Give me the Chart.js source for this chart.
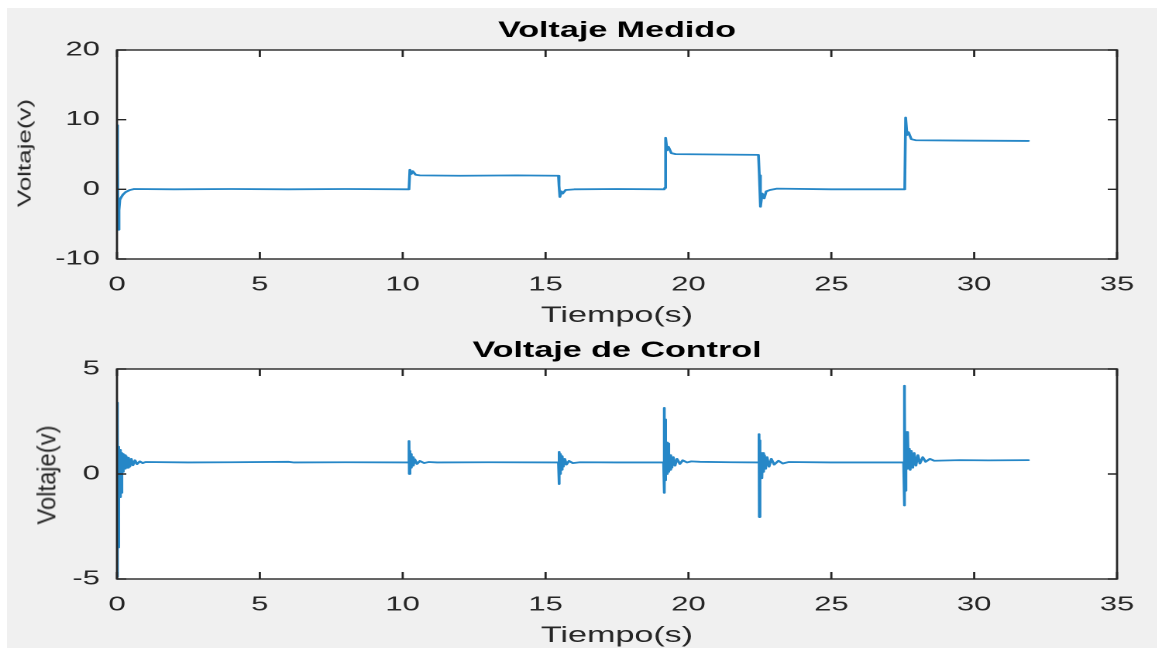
<!DOCTYPE html>
<html>
<head>
<meta charset="utf-8">
<title>Voltaje Medido / Voltaje de Control</title>
<script src="https://cdn.jsdelivr.net/npm/chart.js@4.4.0/dist/chart.umd.min.js"></script>
<style>
  html, body { margin: 0; padding: 0; background: #fff; }
  body { width: 1162px; height: 651px; position: relative; overflow: hidden; }
  #bg { position: absolute; left: 7px; top: 8px; width: 1150px; height: 640px; background: #f0f0f0; }
  /* the reference figure is stretched sideways, so the charts are drawn narrow and widened */
  #stretch { position: absolute; left: 0; top: 0; width: 750px; height: 651px;
             transform: scaleX(1.5493); transform-origin: 0 0; }
  #stretch canvas { position: absolute; left: 0; }
  .ylab { position: absolute; font: 22px 'Liberation Sans', Arial, sans-serif; color: #262626;
          line-height: 1; white-space: nowrap; transform-origin: 50% 50%; }
</style>
</head>
<body>
<div id="bg"></div>
<div id="stretch">
  <canvas id="medido" style="top:0"></canvas>
  <canvas id="control" style="top:335px"></canvas>
</div>
<div class="ylab" style="left:25px; top:153px; transform: translate(-50%,-50%) rotate(-90deg) scale(1.18,0.8);">Voltaje(v)</div>
<div class="ylab" style="left:47px; top:475px; transform: translate(-50%,-50%) rotate(-90deg) scale(1.08,1.2);">Voltaje(v)</div>

<script>
// ---- data ----
const xTicks = [0, 5, 10, 15, 20, 25, 30, 35];
const yTicksMed = [-10, 0, 10, 20];
const yTicksCtl = [-5, 0, 5];

// Voltaje Medido
const tMed = [0, 0.02, 0.04, 0.07, 0.1, 0.14, 0.2, 0.3, 0.45, 0.6, 2.0, 4.0, 6.0, 8.0, 10.2,
  10.22, 10.25, 10.3, 10.35, 10.45, 10.6, 12.0, 14.0, 15.45,
  15.47, 15.5, 15.55, 15.6, 15.7, 16.0, 17.5, 19.15,
  19.17, 19.2, 19.25, 19.3, 19.4, 19.55, 21.0, 22.45,
  22.48, 22.52, 22.58, 22.65, 22.72, 22.85, 23.1, 25.0, 27.55,
  27.57, 27.6, 27.65, 27.7, 27.8, 27.95, 29.5, 31.9];
const vMed = [9.2, 4.0, -5.8, -3.0, -1.5, -1.2, -0.8, -0.4, -0.1, 0.05, 0.0, 0.05, 0.0, 0.05, 0.0,
  0.1, 2.8, 2.2, 2.6, 2.1, 2.0, 1.95, 2.0, 1.95,
  0.5, -1.1, -0.3, -0.6, -0.1, 0.0, 0.05, 0.0,
  0.2, 7.4, 5.6, 6.1, 5.2, 5.05, 5.0, 4.95,
  2.0, -2.5, -0.6, -1.3, -0.3, -0.1, 0.1, 0.0, 0.0,
  0.2, 10.3, 7.8, 8.2, 7.2, 7.05, 7.0, 6.95];

// Voltaje de Control
const tCtl = [0, 0.01, 0.02, 0.03, 0.045, 0.06, 0.075, 0.09, 0.105, 0.12, 0.135, 0.15, 0.17, 0.19, 0.21,
  0.23, 0.26, 0.29, 0.32, 0.36, 0.4, 0.45, 0.5, 0.56, 0.63, 0.7, 0.8, 0.9, 1.0, 2.5, 4.0, 6.0, 6.2, 8.0, 10.2,
  10.22, 10.23, 10.245, 10.26, 10.28, 10.3, 10.33, 10.37, 10.42, 10.5, 10.6, 10.75, 10.9, 11.2, 13.0, 15.45,
  15.47, 15.48, 15.5, 15.52, 15.55, 15.58, 15.62, 15.67, 15.73, 15.82, 15.95, 16.2, 17.5, 19.13,
  19.15, 19.16, 19.17, 19.18, 19.2, 19.22, 19.24, 19.26, 19.28, 19.3, 19.32, 19.35, 19.38, 19.42, 19.47,
  19.53, 19.6, 19.7, 19.8, 19.95, 20.1, 20.4, 21.5, 22.45,
  22.47, 22.48, 22.49, 22.5, 22.52, 22.54, 22.56, 22.58, 22.6, 22.63, 22.66, 22.7, 22.75, 22.82, 22.9,
  23.0, 23.15, 23.3, 23.5, 25.0, 27.53,
  27.55, 27.56, 27.57, 27.58, 27.6, 27.62, 27.64, 27.66, 27.68, 27.7, 27.73, 27.76, 27.8, 27.85, 27.9,
  27.96, 28.03, 28.1, 28.2, 28.3, 28.45, 28.6, 29.5, 30.5, 31.9];
const vCtl = [3.4, -4.9, 2.5, -3.5, 1.3, -1.2, 1.2, -1.1, 1.15, -1.0, 1.1, -0.9, 1.0, 0.1, 0.95,
  0.2, 0.9, 0.25, 0.85, 0.3, 0.78, 0.35, 0.72, 0.42, 0.65, 0.47, 0.6, 0.52, 0.57, 0.55, 0.56, 0.58, 0.55, 0.56, 0.55,
  1.57, 0.0, 1.1, 0.15, 0.95, 0.3, 0.8, 0.4, 0.7, 0.48, 0.62, 0.52, 0.57, 0.55, 0.56, 0.55,
  -0.48, 1.05, 0.0, 0.95, 0.2, 0.85, 0.35, 0.72, 0.45, 0.62, 0.52, 0.56, 0.55, 0.55,
  3.15, -0.9, 2.6, -0.3, 1.5, -0.1, 1.5, 0.0, 1.45, 0.1, 1.0, 0.2, 0.9, 0.3, 0.8,
  0.4, 0.72, 0.48, 0.65, 0.55, 0.6, 0.58, 0.56, 0.55,
  1.9, -2.05, 1.6, -1.2, 1.05, -0.2, 1.0, -0.15, 1.0, 0.1, 0.9, 0.25, 0.8, 0.35, 0.72,
  0.45, 0.63, 0.5, 0.57, 0.55, 0.55,
  4.2, -1.5, 3.5, -0.8, 2.0, 0.2, 2.0, 0.25, 1.95, 0.3, 1.2, 0.2, 1.1, 0.3, 1.0,
  0.4, 0.9, 0.5, 0.8, 0.58, 0.72, 0.63, 0.66, 0.65, 0.66];

const FONT = "'Liberation Sans', Arial, Helvetica, sans-serif";
const AXIS_COLOR = '#262626';
const LINE_COLOR = 'rgba(0,114,189,0.85)';

// white plot box, full frame and inward tick marks like MATLAB's "box on"
const matlabBox = {
  id: 'matlabBox',
  beforeDraw(chart) {
    const { ctx, chartArea: a } = chart;
    ctx.save();
    ctx.fillStyle = '#fff';
    ctx.fillRect(a.left, a.top, a.right - a.left, a.bottom - a.top);
    ctx.restore();
  },
  afterDraw(chart) {
    const { ctx, chartArea: a, scales } = chart;
    ctx.save();
    ctx.strokeStyle = AXIS_COLOR;
    ctx.lineWidth = 1.4;
    ctx.strokeRect(a.left, a.top, a.right - a.left, a.bottom - a.top);
    ctx.beginPath();
    scales.x.ticks.forEach(t => {
      const px = scales.x.getPixelForValue(t.value);
      ctx.moveTo(px, a.bottom); ctx.lineTo(px, a.bottom - 7);
      ctx.moveTo(px, a.top); ctx.lineTo(px, a.top + 7);
    });
    scales.y.ticks.forEach(t => {
      const py = scales.y.getPixelForValue(t.value);
      ctx.moveTo(a.left, py); ctx.lineTo(a.left + 6, py);
      ctx.moveTo(a.right, py); ctx.lineTo(a.right - 6, py);
    });
    ctx.stroke();
    ctx.restore();
  }
};

function makeChart(id, opts) {
  const canvas = document.getElementById(id);
  canvas.width = 750;
  canvas.height = opts.height;
  canvas.style.width = '750px';
  canvas.style.height = opts.height + 'px';

  return new Chart(canvas, {
    type: 'scatter',
    data: {
      datasets: [{
        data: opts.t.map((t, i) => ({ x: t, y: opts.v[i] })),
        showLine: true,
        borderColor: LINE_COLOR,
        borderWidth: 1.8,
        borderJoinStyle: 'round',
        borderCapStyle: 'round',
        pointRadius: 0,
        tension: 0
      }]
    },
    options: {
      responsive: false,
      devicePixelRatio: 2,
      animation: false,
      layout: { padding: { left: 0, right: 29, top: 0, bottom: 0 } },
      plugins: {
        legend: { display: false },
        tooltip: { enabled: false },
        title: {
          display: true,
          fullSize: false, // centre over the plot box, not the whole canvas
          text: opts.title,
          color: '#000',
          font: { family: FONT, size: 22, weight: 'bold' },
          padding: opts.titlePad
        }
      },
      scales: {
        x: {
          type: 'linear',
          min: xTicks[0],
          max: xTicks[xTicks.length - 1],
          afterBuildTicks: s => { s.ticks = xTicks.map(v => ({ value: v })); },
          afterFit: s => { s.height = opts.xHeight; },
          grid: { display: false, drawTicks: false },
          border: { display: false },
          ticks: { color: AXIS_COLOR, font: { family: FONT, size: 20 }, padding: 14, maxRotation: 0 },
          title: {
            display: true,
            text: 'Tiempo(s)',
            color: AXIS_COLOR,
            font: { family: FONT, size: 22 },
            padding: { top: opts.xTitlePad, bottom: opts.xTitlePad }
          }
        },
        y: {
          type: 'linear',
          min: opts.yTicks[0],
          max: opts.yTicks[opts.yTicks.length - 1],
          afterBuildTicks: s => { s.ticks = opts.yTicks.map(v => ({ value: v })); },
          afterFit: s => { s.width = 75.5; },
          grid: { display: false, drawTicks: false },
          border: { display: false },
          ticks: { color: AXIS_COLOR, font: { family: FONT, size: 20 }, padding: 11 }
        }
      }
    },
    plugins: [matlabBox]
  });
}

makeChart('medido', {
  title: 'Voltaje Medido',
  t: tMed, v: vMed, yTicks: yTicksMed,
  height: 335, xHeight: 76,
  titlePad: { top: 17.8, bottom: 5.8 },
  xTitlePad: 5.8
});

makeChart('control', {
  title: 'Voltaje de Control',
  t: tCtl, v: vCtl, yTicks: yTicksCtl,
  height: 316, xHeight: 72,
  titlePad: { top: 2.8, bottom: 4.8 },
  xTitlePad: 1.8
});
</script>
</body>
</html>
